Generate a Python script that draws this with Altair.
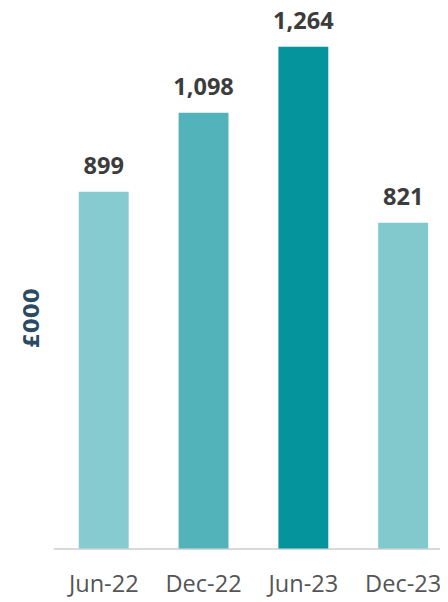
import altair as alt
import pandas as pd

periods = ["Jun-22", "Dec-22", "Jun-23", "Dec-23"]
values = [899, 1098, 1264, 821]
labels = ["899", "1,098", "1,264", "821"]
colors = ["#85CBCF", "#53B3BA", "#06949C", "#82C9CE"]

df = pd.DataFrame({"period": periods, "value": values, "label": labels, "color": colors})

x = alt.X("period:N", sort=periods, title=None,
          scale=alt.Scale(paddingInner=0.5, paddingOuter=0.188, align=0.683),
          axis=alt.Axis(labelAngle=0, labelFont="Open Sans", labelFontSize=24,
                        labelColor="#555555", labelPadding=25, ticks=False,
                        domainColor="#D9D9D9", domainWidth=2, labelBaseline="top"))
y = alt.Y("value:Q", title="£000", scale=alt.Scale(domain=[0, 1289], nice=False, zero=True),
          axis=alt.Axis(labels=False, ticks=False, domain=False, grid=False,
                        titleFont="DejaVu Sans", titleFontSize=22, titleFontWeight="bold",
                        titleColor="#2B4A64", titleX=-22, titleY=286, titleAngle=270,
                        titleBaseline="middle", titleAlign="center"))

bars = alt.Chart(df).mark_bar().encode(x=x, y=y, color=alt.Color("color:N", scale=None))
text = alt.Chart(df).mark_text(font="Open Sans", fontSize=24, fontWeight="bold",
                                color="#3C3C3C", baseline="alphabetic", dy=-18).encode(
    x=alt.X("period:N", sort=periods), y="value:Q", text="label:N")

chart = (bars + text).properties(
    width=394, height=521,
    autosize=alt.AutoSizeParams(type="none"),
    padding={"left": 46, "top": 24, "right": 0, "bottom": 45},
).configure_view(stroke=None)

chart.save("out.html", embed_options={"renderer": "svg", "actions": False})
